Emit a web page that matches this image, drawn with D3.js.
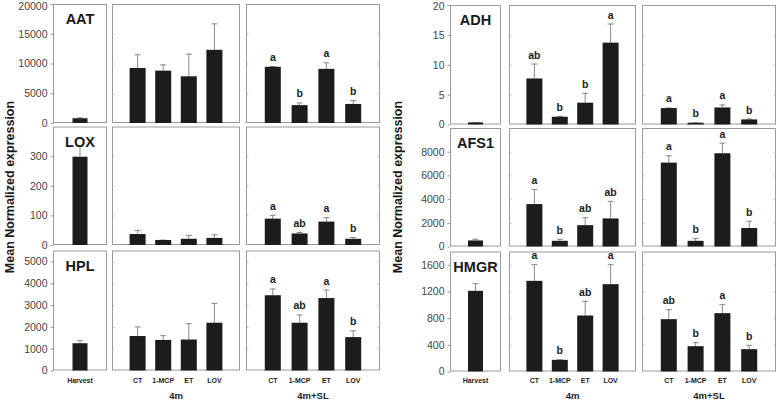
<!DOCTYPE html>
<html><head><meta charset="utf-8">
<script src="https://cdn.jsdelivr.net/npm/d3@7"></script>
<style>body{margin:0;background:#fff}svg{display:block}text{font-family:"Liberation Sans",Arial,sans-serif}</style>
</head><body><svg id="c" width="778" height="400"></svg>
<script>
// Categories and groups
const categories = ["CT","1-MCP","ET","LOV"];
const harvestLabel = ["Harvest"];
const groupLabels = ["4m","4m+SL"];
const genesLeft = ["AAT","LOX","HPL"];
const genesRight = ["ADH","AFS1","HMGR"];

// Values: [Harvest, 4m CT, 4m 1-MCP, 4m ET, 4m LOV, SL CT, SL 1-MCP, SL ET, SL LOV]
const AAT_mean  = [800, 9250, 8800, 7850, 12300, 9450, 3000, 9100, 3200];
const AAT_err   = [150, 2300, 1050, 3800, 4450, 120, 450, 1100, 650];
const AAT_lett  = ["", "", "", "", "", "a", "b", "a", "b"];
const LOX_mean  = [298, 37, 17, 21, 24, 89, 39, 79, 21];
const LOX_err   = [36, 14, 1, 13, 12, 13, 5, 15, 6];
const LOX_lett  = ["", "", "", "", "", "a", "ab", "a", "b"];
const HPL_mean  = [1250, 1580, 1400, 1420, 2190, 3450, 2190, 3320, 1530];
const HPL_err   = [150, 440, 220, 750, 910, 310, 380, 390, 310];
const HPL_lett  = ["", "", "", "", "", "a", "ab", "a", "b"];
const ADH_mean  = [0.35, 7.7, 1.3, 3.65, 13.7, 2.75, 0.3, 2.85, 0.85];
const ADH_err   = [0.05, 2.5, 0.15, 1.65, 3.2, 0.1, 0.05, 0.5, 0.15];
const ADH_lett  = ["", "ab", "b", "b", "a", "a", "b", "a", "b"];
const AFS1_mean = [510, 3580, 480, 1800, 2370, 7080, 480, 7870, 1560];
const AFS1_err  = [140, 1280, 170, 670, 1480, 620, 230, 890, 610];
const AFS1_lett = ["", "a", "b", "ab", "ab", "a", "b", "a", "b"];
const HMGR_mean = [1210, 1360, 175, 840, 1310, 785, 380, 875, 335];
const HMGR_err  = [115, 250, 8, 220, 300, 150, 60, 135, 65];
const HMGR_lett = ["", "a", "b", "ab", "a", "ab", "b", "a", "b"];

// Axis tick values
const AAT_ticks  = [0, 5000, 10000, 15000, 20000];
const LOX_ticks  = [0, 100, 200, 300];
const HPL_ticks  = [0, 1000, 2000, 3000, 4000, 5000];
const ADH_ticks  = [0, 5, 10, 15, 20];
const AFS1_ticks = [0, 2000, 4000, 6000, 8000];
const HMGR_ticks = [0, 400, 800, 1200, 1600];
const AAT_max = 20000, LOX_max = 400, HPL_max = 5500;
const ADH_max = 20, AFS1_max = 10000, HMGR_max = 1800;

const data = {
  AAT:{mean:AAT_mean,err:AAT_err,lett:AAT_lett,ticks:AAT_ticks,max:AAT_max},
  LOX:{mean:LOX_mean,err:LOX_err,lett:LOX_lett,ticks:LOX_ticks,max:LOX_max},
  HPL:{mean:HPL_mean,err:HPL_err,lett:HPL_lett,ticks:HPL_ticks,max:HPL_max},
  ADH:{mean:ADH_mean,err:ADH_err,lett:ADH_lett,ticks:ADH_ticks,max:ADH_max},
  AFS1:{mean:AFS1_mean,err:AFS1_err,lett:AFS1_lett,ticks:AFS1_ticks,max:AFS1_max},
  HMGR:{mean:HMGR_mean,err:HMGR_err,lett:HMGR_lett,ticks:HMGR_ticks,max:HMGR_max}
};

const svg = d3.select("#c");
const BORDER = "#9a9a9a", TICKC = "#444", BAR = "#1c1c1c", ERR = "#8a8a8a";

const sides = [
  {genes:genesLeft, cols:[[53,107],[112,240],[246,380]], rows:[[4,123],[126.5,245],[250.5,370.5]], title:10},
  {genes:genesRight, cols:[[450,501],[509,636],[642,776]], rows:[[5,124.5],[128,246.5],[251.5,371.5]], title:398}
];

sides.forEach(side => {
  side.genes.forEach((g, ri) => {
    const d = data[g];
    const [y0, y1] = side.rows[ri];
    const y = d3.scaleLinear().domain([0, d.max]).range([y1, y0]);
    side.cols.forEach((c, ci) => {
      const [x0, x1] = c;
      const cats = ci === 0 ? harvestLabel : categories;
      const x = d3.scalePoint().domain(cats).range([x0, x1]).padding(ci === 0 ? 0.5 : 1);
      const off = ci === 0 ? 0 : (ci === 1 ? 1 : 5);
      const gP = svg.append("g");
      // panel frame
      gP.append("rect").attr("x", x0 + 0.5).attr("y", y0 + 0.5).attr("width", x1 - x0 - 1).attr("height", y1 - y0 - 1)
        .attr("fill", "none").attr("stroke", BORDER).attr("stroke-width", 1);
      // axis ticks
      if (ci === 0) {
        const ax = d3.axisLeft(y).tickValues(d.ticks).tickSize(3).tickPadding(3).tickFormat(d3.format("d"));
        const ga = gP.append("g").attr("transform", `translate(${x0 + 0.5},0)`).call(ax);
        ga.select(".domain").remove();
        ga.selectAll("line").attr("stroke", BORDER);
        ga.selectAll("text").attr("fill", TICKC).style("font-size", "10.5px").style("font-family", '"Liberation Sans",Arial,sans-serif');
        // keep top labels inside the picture
        ga.selectAll(".tick").each(function(t) {
          const ty = y(t);
          if (ty < 6) d3.select(this).select("text").attr("y", 6 - ty);
        });
      } else {
        const ax = d3.axisRight(y).tickValues(d.ticks.filter(t => t > 0 && t < d.max)).tickSize(2).tickFormat("");
        const ga = gP.append("g").attr("transform", `translate(${x0 + 0.5},0)`).call(ax);
        ga.select(".domain").remove();
        ga.selectAll("line").attr("stroke", "#bbb");
        if (ci === 2) {
          const ax2 = d3.axisLeft(y).tickValues(d.ticks.filter(t => t > 0 && t < d.max)).tickSize(2).tickFormat("");
          const gb = gP.append("g").attr("transform", `translate(${x1 - 0.5},0)`).call(ax2);
          gb.select(".domain").remove();
          gb.selectAll("line").attr("stroke", "#bbb");
        }
      }
      const bw = ci === 0 ? 15 : 16;
      cats.forEach((cat, k) => {
        const i = off + k;
        const m = d.mean[i], e = d.err[i];
        const cx = x(cat);
        // error bar
        gP.append("line").attr("x1", cx).attr("x2", cx).attr("y1", y(m)).attr("y2", y(m + e))
          .attr("stroke", ERR).attr("stroke-width", 1);
        gP.append("line").attr("x1", cx - 3).attr("x2", cx + 3).attr("y1", y(m + e) + 0.5).attr("y2", y(m + e) + 0.5)
          .attr("stroke", ERR).attr("stroke-width", 1);
        gP.append("rect").attr("x", cx - bw / 2).attr("y", y(m)).attr("width", bw).attr("height", y(0) - y(m))
          .attr("fill", BAR);
        if (d.lett[i]) {
          gP.append("text").attr("x", cx).attr("y", y(m + e) - 5).attr("text-anchor", "middle")
            .attr("fill", "#222").style("font-size", "10.5px").style("font-weight", "bold").text(d.lett[i]);
        }
        if (ri === 2) {
          gP.append("text").attr("x", cx).attr("y", 383).attr("text-anchor", "middle")
            .attr("fill", "#222").style("font-size", "7px").style("font-weight", "bold").text(cat);
        }
      });
      if (ci === 0) {
        gP.append("text").attr("x", (x0 + x1) / 2).attr("y", y0 + 20).attr("text-anchor", "middle")
          .attr("fill", "#1a1a1a").style("font-size", "14.5px").style("font-weight", "bold").text(g);
      }
      if (ri === 2 && ci > 0) {
        gP.append("text").attr("x", (x0 + x1) / 2).attr("y", 399).attr("text-anchor", "middle")
          .attr("fill", "#222").style("font-size", "9.5px").style("font-weight", "bold").text(groupLabels[ci - 1]);
      }
    });
  });
  svg.append("text").attr("transform", `translate(${side.title + 4},187) rotate(-90)`).attr("text-anchor", "middle")
    .attr("fill", "#1a1a1a").style("font-size", "12.5px").style("font-weight", "bold").text("Mean Normalized expression");
});
</script></body></html>
